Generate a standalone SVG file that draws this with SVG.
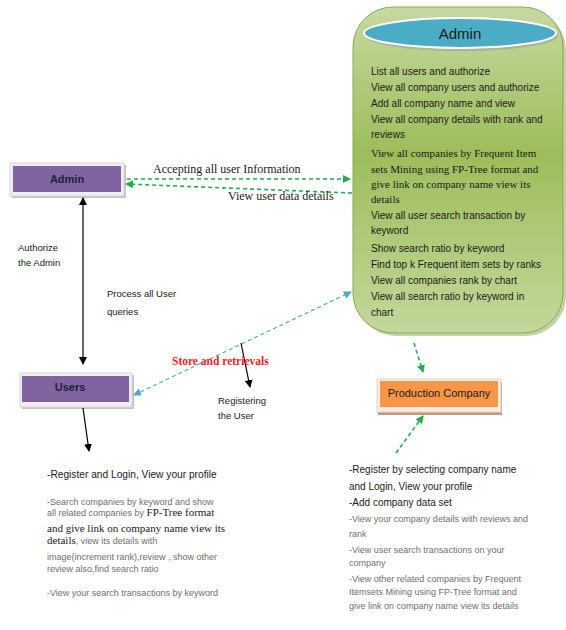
<svg xmlns="http://www.w3.org/2000/svg" width="566" height="630" viewBox="0 0 566 630">
<defs>
<linearGradient id="gg" x1="0" y1="0" x2="0" y2="1">
<stop offset="0" stop-color="#c6d9a0"/>
<stop offset="0.45" stop-color="#9dbd5b"/>
<stop offset="1" stop-color="#c3d89c"/>
</linearGradient>
<marker id="mk" markerWidth="8" markerHeight="8" refX="7" refY="4" orient="auto" markerUnits="userSpaceOnUse"><path d="M0,0 L8,4 L0,8 z" fill="#000"/></marker>
<marker id="mks" markerWidth="8" markerHeight="8" refX="1" refY="4" orient="auto" markerUnits="userSpaceOnUse"><path d="M8,0 L0,4 L8,8 z" fill="#000"/></marker>
<marker id="mg" markerWidth="8" markerHeight="8" refX="7" refY="4" orient="auto" markerUnits="userSpaceOnUse"><path d="M0,0 L8,4 L0,8 z" fill="#1fb04a"/></marker>
<marker id="mb" markerWidth="8" markerHeight="8" refX="7" refY="4" orient="auto" markerUnits="userSpaceOnUse"><path d="M0,0 L8,4 L0,8 z" fill="#4bacc6"/></marker>
<marker id="mbs" markerWidth="8" markerHeight="8" refX="1" refY="4" orient="auto" markerUnits="userSpaceOnUse"><path d="M8,0 L0,4 L8,8 z" fill="#4bacc6"/></marker>
</defs>
<style>
.s{font-family:"Liberation Sans",Arial,sans-serif;fill:#1a1a1a}
.sr{font-family:"Liberation Serif","Times New Roman",serif;fill:#1a1a1a}
.g{font-family:"Liberation Sans",Arial,sans-serif;fill:#6e6e6e;font-size:9px}
.box{font-family:"Liberation Sans",Arial,sans-serif;font-weight:bold;font-size:11px;fill:#1f1f3a}
.gd{stroke:#1fb04a;stroke-width:1.6;stroke-dasharray:4,3;fill:none}
.bd{stroke:#4bacc6;stroke-width:1.3;stroke-dasharray:4,3;fill:none}
.bl{stroke:#000;stroke-width:1.2;fill:none}
</style>

<g id="admin-panel">
<rect x="356" y="10" width="210" height="326" rx="40" fill="#7f9a4a" opacity="0.45"/>
<rect x="353" y="7" width="210" height="326" rx="40" fill="url(#gg)" stroke="#8aa84f" stroke-width="1"/>
<ellipse cx="462" cy="36" rx="96" ry="15" fill="#9a9a9a" opacity="0.5"/>
<ellipse cx="460" cy="33" rx="96" ry="15" fill="#4bacc6" stroke="#ffffff" stroke-width="2"/>
<text x="460" y="39" text-anchor="middle" class="s" font-size="15">Admin</text>
<g class="s" font-size="10">
<text x="371" y="75">List all users and authorize</text>
<text x="371" y="91">View all company users and authorize</text>
<text x="371" y="107">Add all company name and view</text>
<text x="371" y="123">View all company details with rank and</text>
<text x="371" y="138">reviews</text>
</g>
<g class="sr" font-size="11">
<text x="371" y="157">View all companies by Frequent Item</text>
<text x="371" y="173">sets Mining using FP-Tree format and</text>
<text x="371" y="188">give link on company name view its</text>
<text x="371" y="203">details</text>
</g>
<g class="s" font-size="10">
<text x="371" y="219">View all user search transaction by</text>
<text x="371" y="234">keyword</text>
<text x="371" y="252">Show search ratio by keyword</text>
<text x="371" y="268">Find top k Frequent item sets by ranks</text>
<text x="371" y="284">View all companies rank by chart</text>
<text x="371" y="300">View all search ratio by keyword in</text>
<text x="371" y="316">chart</text>
</g>
</g>

<g id="admin">
<rect x="12" y="165" width="114" height="33" fill="#c4c4c4"/>
<rect x="10" y="163" width="114" height="33" fill="#f0eef2" stroke="#d8d6da" stroke-width="1"/>
<rect x="13" y="166" width="108" height="26" fill="#8064a2"/>
<text x="67" y="183" text-anchor="middle" class="box">Admin</text>
</g>

<g id="users">
<rect x="22" y="375" width="112" height="34" fill="#c4c4c4"/>
<rect x="20" y="373" width="112" height="34" fill="#f0eef2" stroke="#d8d6da" stroke-width="1"/>
<rect x="22" y="376" width="107" height="26" fill="#8064a2"/>
<text x="70" y="391" text-anchor="middle" class="box">Users</text>
</g>

<g id="production-company">
<rect x="378" y="382" width="124" height="33" fill="#c49a78"/>
<rect x="377" y="379" width="124" height="33" fill="#f4ede8" stroke="#ddd3cb" stroke-width="1"/>
<rect x="380" y="381" width="118" height="26" fill="#f79646"/>
<text x="439" y="397" text-anchor="middle" class="s" font-size="11">Production Company</text>
</g>

<g id="connectors">
<line class="gd" x1="127" y1="179" x2="350" y2="179" marker-end="url(#mg)"/>
<line class="gd" x1="352" y1="193" x2="126" y2="184" marker-end="url(#mg)"/>
<line class="bl" x1="83" y1="198" x2="83" y2="364" marker-start="url(#mks)" marker-end="url(#mk)"/>
<line class="bd" x1="134" y1="395" x2="351" y2="292" marker-start="url(#mbs)" marker-end="url(#mb)"/>
<line class="bl" x1="241" y1="343" x2="250" y2="387" marker-end="url(#mk)"/>
<line class="bl" x1="83" y1="408" x2="89" y2="451" marker-end="url(#mk)"/>
<line class="gd" x1="414" y1="343" x2="423" y2="372" marker-end="url(#mg)"/>
<line class="gd" x1="396" y1="453" x2="423" y2="416" marker-end="url(#mg)"/>
</g>

<g id="labels">
<text x="153" y="173" class="sr" font-size="12">Accepting all user Information</text>
<text x="228" y="200" class="sr" font-size="12">View user data details</text>
<text x="18" y="251" class="s" font-size="9.5">Authorize</text>
<text x="18" y="266" class="s" font-size="9.5">the Admin</text>
<text x="107" y="297" class="s" font-size="9.5">Process all User</text>
<text x="107" y="315" class="s" font-size="9.5">queries</text>
<text x="172" y="365" font-family="Liberation Serif,serif" font-weight="bold" font-size="11.5" fill="#ff1a1a">Store and retrievals</text>
<text x="218" y="404" class="s" font-size="9.5">Registering</text>
<text x="218" y="419" class="s" font-size="9.5">the User</text>
</g>

<g id="user-functions">
<text x="47" y="478" class="s" font-size="10.2">-Register and Login, View your profile</text>
<text x="47" y="505" class="g">-Search companies by  keyword and  show</text>
<text x="47" y="516"><tspan class="g">all  related companies by </tspan><tspan class="sr" font-size="11">FP-Tree format</tspan></text>
<text x="47" y="532" class="sr" font-size="11">and give link on company name view its</text>
<text x="47" y="544"><tspan class="sr" font-size="11">details</tspan><tspan class="g">, view its details with</tspan></text>
<text x="47" y="560" class="g">image(increment rank),review , show other</text>
<text x="47" y="572" class="g">review also,find search ratio</text>
<text x="47" y="596" class="g">-View your search transactions  by keyword</text>
</g>

<g id="company-functions">
<text x="349" y="473" class="s" font-size="10">-Register by selecting company name</text>
<text x="349" y="490" class="s" font-size="10">and Login, View your profile</text>
<text x="349" y="506" class="s" font-size="10">-Add company data set</text>
<text x="349" y="522" class="g">-View your company details with reviews and</text>
<text x="349" y="537" class="g">rank</text>
<text x="349" y="553" class="g">-View user search transactions on your</text>
<text x="349" y="566" class="g">company</text>
<text x="349" y="582" class="g">-View other related  companies by Frequent</text>
<text x="349" y="595" class="g">Itemsets Mining using FP-Tree format and</text>
<text x="349" y="609" class="g">give link on company name view its details</text>
</g>
</svg>
